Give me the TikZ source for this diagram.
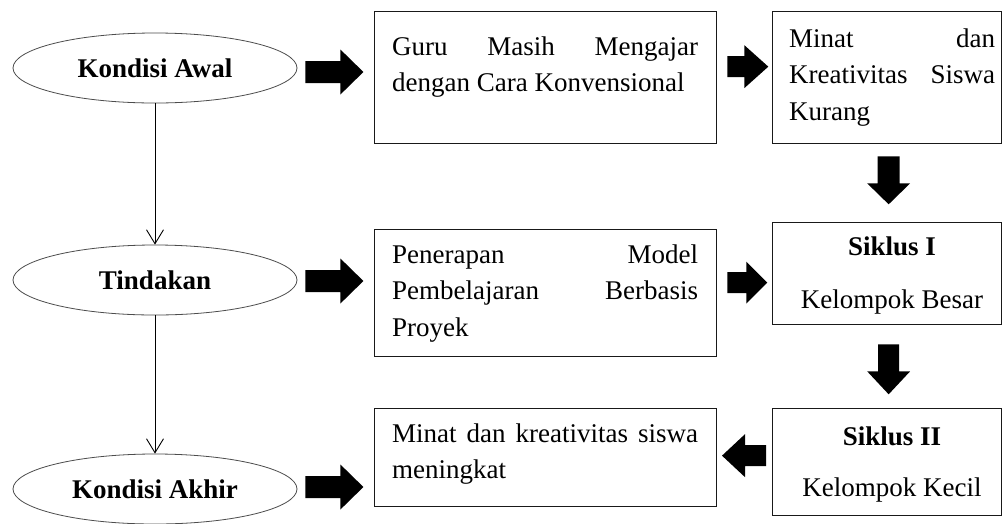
\documentclass[tikz,border=0pt]{standalone}
\usepackage{fontspec}
\setmainfont{Liberation Serif}
\usetikzlibrary{shapes.geometric,arrows.meta,calc}
\tikzset{
  ell/.style={ellipse, draw=black!70, line width=0.8pt, minimum width=284pt, minimum height=70pt, inner sep=0pt, font=\fontsize{27}{32}\selectfont\bfseries},
  boxn/.style={draw=black!90, line width=1.3pt, rectangle, anchor=north west, inner sep=0pt},
  txt/.style={anchor=base west, inner sep=0pt, font=\fontsize{27}{36.5}\selectfont},
  ctr/.style={anchor=base, inner sep=0pt, font=\fontsize{27}{36}\selectfont},
  flow/.style={line width=0.9pt, -{Straight Barb[length=14pt,width=17pt,line width=0.9pt]}},
  pics/fatarrow/.style n args={4}{code={\fill[black] (0,-#3/2) -- (#1,-#3/2) -- (#1,-#4/2) -- (#1+#2,0) -- (#1,#4/2) -- (#1,#3/2) -- (0,#3/2) -- cycle;}}
}
\begin{document}
\begin{tikzpicture}[x=1pt,y=-1pt]
\useasboundingbox[fill=white] (0,0) rectangle (1003,523);
% ellipses
\node[ell] (e1) at (155,68) {Kondisi Awal};
\node[ell] (e2) at (155,280) {Tindakan};
\node[ell] (e3) at (155,489) {Kondisi Akhir};
% boxes
\node[boxn, minimum width=342pt, minimum height=132pt] (b1) at (374,11) {};
\node[boxn, minimum width=229pt, minimum height=132pt] (b2) at (772,11) {};
\node[boxn, minimum width=342pt, minimum height=127pt] (b3) at (374,229) {};
\node[boxn, minimum width=229pt, minimum height=102pt] (s1) at (772,222) {};
\node[boxn, minimum width=342pt, minimum height=98pt] (b5) at (374,408) {};
\node[boxn, minimum width=229pt, minimum height=107pt] (s2) at (772,408) {};
% texts
\node[txt] (t1) at (392,55) {\parbox[t]{306pt}{\makebox[306pt][s]{Guru Masih Mengajar}\\dengan Cara Konvensional}};
\node[txt] (t2) at (789,47) {\parbox[t]{206pt}{\makebox[206pt][s]{Minat dan}\\\makebox[206pt][s]{Kreativitas Siswa}\\Kurang}};
\node[txt] (t3) at (392,263) {\parbox[t]{306pt}{\makebox[306pt][s]{Penerapan Model}\\\makebox[306pt][s]{Pembelajaran Berbasis}\\Proyek}};
\node[txt] (t5) at (392,442) {\parbox[t]{306pt}{\makebox[306pt][s]{Minat dan kreativitas siswa}\\meningkat}};
\node[ctr] (s1a) at (892,255) {\bfseries Siklus I};
\node[ctr] (s1b) at (892,308) {Kelompok Besar};
\node[ctr] (s2a) at (892,445) {\bfseries Siklus II};
\node[ctr] (s2b) at (892,496) {Kelompok Kecil};
% thin connectors
\draw[flow] (e1.south) -- (e2.north);
\draw[flow] (e2.south) -- (e3.north);
% fat arrows
\pic at ($(e1.east)+(8,4)$) {fatarrow={35}{23}{22}{45}};
\pic at ($(e2.east)+(8,1)$) {fatarrow={35}{23}{22}{45}};
\pic at ($(e3.east)+(8,-2)$) {fatarrow={35}{23}{22}{45}};
\pic at ($(b1.east)+(10,-11)$) {fatarrow={17}{24}{21}{43}};
\pic at ($(b3.east)+(10,-10.5)$) {fatarrow={19}{21}{21}{42}};
\pic[rotate=-90] at ($(b2.south)+(1.5,12)$) {fatarrow={27}{21}{22}{43}};
\pic[rotate=-90] at ($(s1.south)+(1.5,19)$) {fatarrow={27}{23}{21}{43}};
\pic[rotate=180] at ($(s2.west)+(-6,-6.5)$) {fatarrow={21}{23}{21}{43}};
\end{tikzpicture}
\end{document}
